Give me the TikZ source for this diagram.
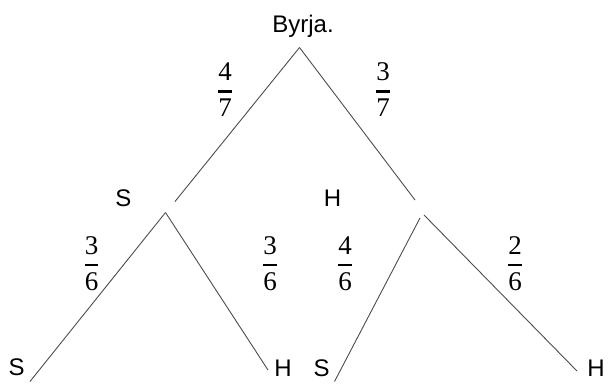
\documentclass[tikz,border=0pt]{standalone}
\usepackage{amsmath}
\usepackage{fontspec}
\setmainfont{Liberation Sans}
\newfontfamily\digitfont{Liberation Serif}
\tikzset{
  lbl/.style={inner sep=0pt, anchor=base, font=\fontsize{24}{28}\selectfont},
  frc/.style={inner sep=0pt, font=\digitfont\fontsize{27}{32}\selectfont},
  branch/.style={draw=black!70, line width=0.9pt}
}
\newcommand{\pfrac}[2]{$\genfrac{}{}{2.2pt}{0}{\text{#1}}{\text{#2}}$}
\begin{document}
\begin{tikzpicture}[x=1pt,y=-1pt]
\useasboundingbox (0,0) rectangle (608,384);
% labels
\node[lbl] (start) at (303,32) {Byrja.};
\node[lbl] (s1) at (123.5,206) {S};
\node[lbl] (h1) at (332.5,206) {H};
\node[lbl] (ss) at (16.7,375.5) {S};
\node[lbl] (sh) at (283,376) {H};
\node[lbl] (hs) at (321.7,376) {S};
\node[lbl] (hh) at (596,376) {H};
% fractions
\node[frc] (f47) at (225,90) {\pfrac{4}{7}};
\node[frc] (f37) at (383,90) {\pfrac{3}{7}};
\node[frc] (f36a) at (91.7,264) {\pfrac{3}{6}};
\node[frc] (f36b) at (270,264) {\pfrac{3}{6}};
\node[frc] (f46) at (345,264) {\pfrac{4}{6}};
\node[frc] (f26) at (515,264) {\pfrac{2}{6}};
% branch points
\coordinate (top) at (299.5,47.5);
\coordinate (l1) at (175,201.5);
\coordinate (r1) at (415,200);
\coordinate (sl) at (165.5,212.5);
\coordinate (sll) at (30,381.5);
\coordinate (slr) at (268,370);
\coordinate (srl) at (420,218);
\coordinate (srr) at (424,215);
\coordinate (srle) at (334.5,381.5);
\coordinate (srre) at (577,371);
% branches
\draw[branch] (top) -- (l1);
\draw[branch] (top) -- (r1);
\draw[branch] (sl) -- (sll);
\draw[branch] (sl) -- (slr);
\draw[branch] (srl) -- (srle);
\draw[branch] (srr) -- (srre);
\end{tikzpicture}
\end{document}
